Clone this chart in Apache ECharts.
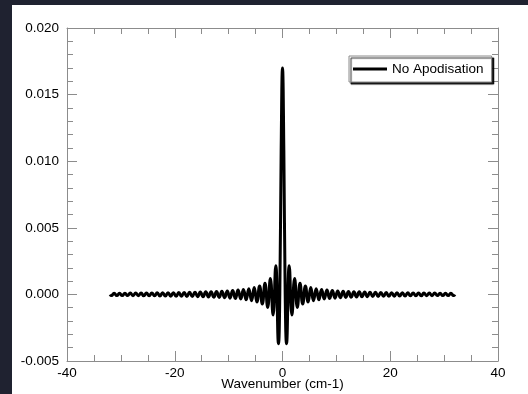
<!DOCTYPE html>
<html><head><meta charset="utf-8">
<script src="https://cdn.jsdelivr.net/npm/echarts@6/dist/echarts.min.js"></script>
<style>html,body{margin:0;padding:0;background:#1f2230;width:528px;height:394px;overflow:hidden}
#c{position:absolute;left:12px;top:5px;width:516px;height:389px;background:#fff}</style>
</head><body><div id="c"></div><script>
// Wavenumber positions (cm-1) of the plotted points
const xNeg = [-32,-31.75,-31.25,-30.75,-30.25,-29.75,-29.25,-28.75,-28.25,-27.75,-27.25,-26.75,-26.25,-25.75,-25.25,-24.75,-24.25,-23.75,-23.25,-22.75,-22.25,-21.75,-21.25,-20.75,-20.25,-19.75,-19.25,-18.75,-18.25,-17.75,-17.25,-16.75,-16.25,-15.75,-15.25,-14.75,-14.25,-13.75,-13.25,-12.75,-12.25,-11.75,-11.25,-10.75,-10.25,-9.75,-9.25,-8.75,-8.25,-7.75,-7.25,-6.75,-6.25,-5.75,-5.25,-4.75,-4.25,-3.75,-3.25,-2.75,-2.25,-1.75,-1.25];
const xCenter = [-0.75,-0.5,-0.25,0,0.25,0.5,0.75];
const xPos = [1.25,1.75,2.25,2.75,3.25,3.75,4.25,4.75,5.25,5.75,6.25,6.75,7.25,7.75,8.25,8.75,9.25,9.75,10.25,10.75,11.25,11.75,12.25,12.75,13.25,13.75,14.25,14.75,15.25,15.75,16.25,16.75,17.25,17.75,18.25,18.75,19.25,19.75,20.25,20.75,21.25,21.75,22.25,22.75,23.25,23.75,24.25,24.75,25.25,25.75,26.25,26.75,27.25,27.75,28.25,28.75,29.25,29.75,30.25,30.75,31.25,31.75,32];
// Values
const yNeg = [0,-0.00009,0.00009,-0.00009,0.00009,-0.00009,0.00009,-0.00009,0.00010,-0.00010,0.00010,
-0.00010,0.00010,-0.00011,0.00011,-0.00011,0.00011,-0.00011,0.00012,-0.00012,0.00012,
-0.00012,0.00013,-0.00013,0.00013,-0.00014,0.00014,-0.00014,0.00015,-0.00015,0.00016,
-0.00016,0.00017,-0.00017,0.00018,-0.00018,0.00019,-0.00020,0.00020,-0.00021,0.00022,
-0.00023,0.00024,-0.00025,0.00026,-0.00028,0.00029,-0.00031,0.00033,-0.00035,0.00037,
-0.00040,0.00043,-0.00047,0.00052,-0.00057,0.00064,-0.00072,0.00083,-0.00098,0.00120,
-0.00155,0.00216];
const yCenter = [-0.0037,0,0.0108,0.0170,0.0108,0,-0.0037];
const yPos = [0.00216,-0.00155,0.00120,-0.00098,0.00083,-0.00072,0.00064,-0.00057,0.00052,-0.00047,
0.00043,-0.00040,0.00037,-0.00035,0.00033,-0.00031,0.00029,-0.00028,0.00026,-0.00025,
0.00024,-0.00023,0.00022,-0.00021,0.00020,-0.00020,0.00019,-0.00018,0.00018,-0.00017,
0.00017,-0.00016,0.00016,-0.00015,0.00015,-0.00014,0.00014,-0.00014,0.00013,-0.00013,
0.00013,-0.00012,0.00012,-0.00012,0.00012,-0.00011,0.00011,-0.00011,0.00011,-0.00011,
0.00010,-0.00010,0.00010,-0.00010,0.00010,-0.00009,0.00009,-0.00009,0.00009,-0.00009,
0.00009,-0.00009,0];
const seriesName = 'No Apodisation';
const xTitle = 'Wavenumber (cm-1)';

const xs = xNeg.concat(xCenter, xPos);
const ys = yNeg.concat(yCenter, yPos);
const data = xs.map((x, i) => [x, ys[i]]);

const axisCol = '#8c8c8c';
const font = 'Liberation Sans, Arial, Helvetica, sans-serif';
function axisCommon(extra) {
  return Object.assign({
    type: 'value',
    axisLine: { show: true, onZero: false, lineStyle: { color: axisCol, width: 1 } },
    axisTick: { show: true, inside: true, length: 10, lineStyle: { color: axisCol, width: 1 } },
    minorTick: { show: true, length: 6, lineStyle: { color: axisCol, width: 1 } },
    splitLine: { show: false },
    axisLabel: { color: '#000', fontSize: 13.5, fontFamily: font }
  }, extra);
}
const chart = echarts.init(document.getElementById('c'), null, { renderer: 'canvas' });
chart.setOption({
  backgroundColor: '#fff',
  animation: false,
  grid: { left: 55, top: 23, right: 30, bottom: 33, containLabel: false, outerBoundsMode: 'none' },
  legend: {
    show: true, data: [seriesName], left: 337, top: 51,
    icon: 'rect', itemWidth: 34, itemHeight: 3,
    backgroundColor: '#fff', borderColor: '#8c8c8c', borderWidth: 1,
    padding: [6, 8, 6, 4],
    shadowColor: 'rgba(0,0,0,0.85)', shadowOffsetX: 2, shadowOffsetY: 2, shadowBlur: 1,
    textStyle: { color: '#000', fontSize: 13.5, fontFamily: font }
  },
  xAxis: [
    axisCommon({ min: -40, max: 40, interval: 20, position: 'bottom',
      minorTick: { show: true, splitNumber: 4, length: 6, lineStyle: { color: axisCol, width: 1 } },
      axisLabel: { color: '#000', fontSize: 13.5, fontFamily: font, margin: 5 },
      name: xTitle, nameLocation: 'middle', nameGap: 16, nameMoveOverlap: false,
      nameTextStyle: { color: '#000', fontSize: 13.5, fontFamily: font } }),
    axisCommon({ min: -40, max: 40, interval: 20, position: 'top',
      minorTick: { show: true, splitNumber: 4, length: 6, lineStyle: { color: axisCol, width: 1 } },
      axisLabel: { show: false } })
  ],
  yAxis: [
    axisCommon({ min: -0.005, max: 0.02, interval: 0.005, position: 'left',
      minorTick: { show: true, splitNumber: 5, length: 6, lineStyle: { color: axisCol, width: 1 } },
      axisLabel: { color: '#000', fontSize: 13.5, fontFamily: font, margin: 8,
        formatter: v => v.toFixed(3) } }),
    axisCommon({ min: -0.005, max: 0.02, interval: 0.005, position: 'right',
      minorTick: { show: true, splitNumber: 5, length: 6, lineStyle: { color: axisCol, width: 1 } },
      axisLabel: { show: false } })
  ],
  series: [{
    name: seriesName, type: 'line', xAxisIndex: 0, yAxisIndex: 0,
    data: data, smooth: true, showSymbol: false, symbol: 'none',
    lineStyle: { color: '#000', width: 3 }, itemStyle: { color: '#000' }
  }]
});
</script></body></html>
